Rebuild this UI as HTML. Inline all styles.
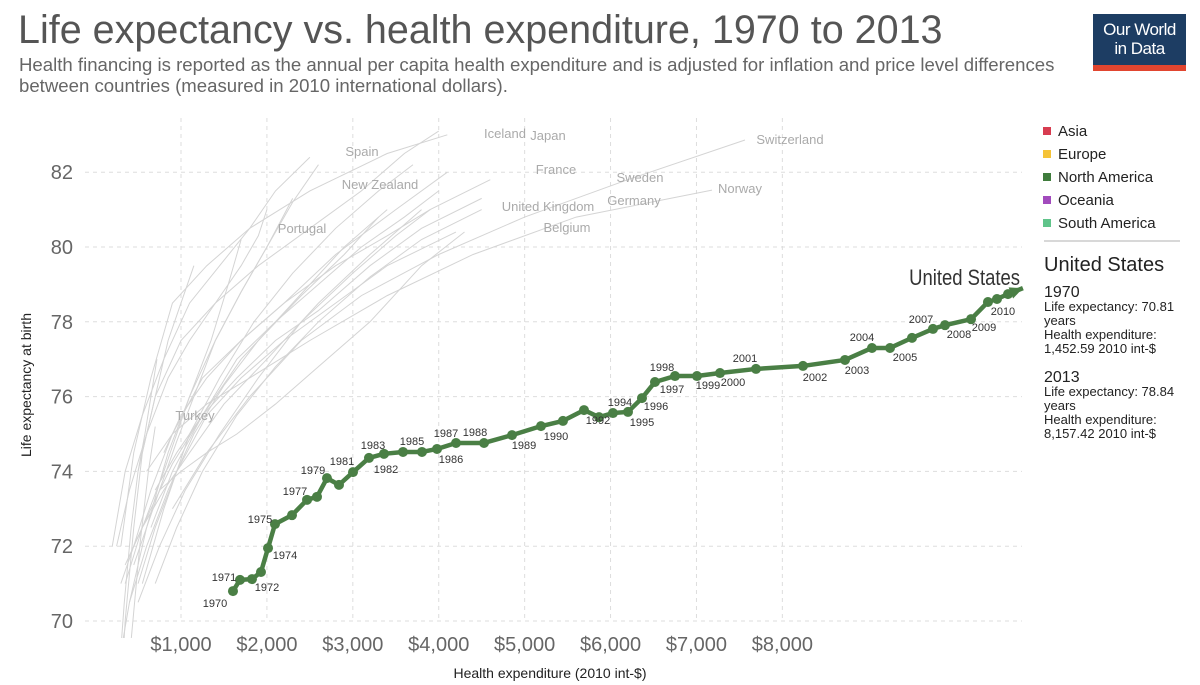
<!DOCTYPE html>
<html><head><meta charset="utf-8">
<style>
html,body{margin:0;width:1200px;height:685px;overflow:hidden}
body{background:#fff;font-family:"Liberation Sans",sans-serif;position:relative}
.t{position:absolute;left:18px;top:8px;font-size:39.5px;color:#555;white-space:nowrap}
.s{position:absolute;left:19px;top:54px;font-size:18.6px;color:#666;line-height:21px;width:1072px}
.logo{position:absolute;left:1093px;top:14px;width:93px;height:57px;background:#1d3d63;color:#fff;font-size:17px;line-height:19px;text-align:center;box-sizing:border-box;padding-top:6px;letter-spacing:-0.5px}
.logo .bar{position:absolute;left:0;bottom:0;width:100%;height:6px;background:#e1452f}
</style></head><body>
<div class="t">Life expectancy vs. health expenditure, 1970 to 2013</div>
<div class="s">Health financing is reported as the annual per capita health expenditure and is adjusted for inflation and price level differences between countries (measured in 2010 international dollars).</div>
<div class="logo">Our World<br>in Data<div class="bar"></div></div>
<svg id="c" width="1200" height="685" style="position:absolute;left:0;top:0;display:block"></svg>
<script>
const xTicks=[1000,2000,3000,4000,5000,6000,7000,8000];
const xTickLabels=["$1,000","$2,000","$3,000","$4,000","$5,000","$6,000","$7,000","$8,000"];
const yTicks=[70,72,74,76,78,80,82];
const years=[1970,1971,1972,1973,1974,1975,1976,1977,1978,1979,1980,1981,1982,1983,1984,1985,1986,1987,1988,1989,1990,1991,1992,1993,1994,1995,1996,1997,1998,1999,2000,2001,2002,2003,2004,2005,2006,2007,2008,2009,2010,2011,2012,2013];
const usSpend=[1605,1687,1826,1931,2013,2094,2292,2467,2583,2699,2839,3002,3188,3363,3584,3805,3980,4201,4527,4853,5190,5446,5691,5866,6028,6203,6366,6517,6750,7006,7274,7693,8240,8729,9043,9253,9509,9753,9893,10196,10393,10498,10626,10800];
const usLife=[70.80,71.10,71.12,71.31,71.95,72.59,72.83,73.24,73.32,73.82,73.64,73.98,74.36,74.47,74.52,74.52,74.60,74.76,74.76,74.97,75.21,75.35,75.64,75.45,75.56,75.59,75.96,76.39,76.55,76.55,76.63,76.74,76.82,76.98,77.30,77.30,77.57,77.81,77.91,78.07,78.53,78.61,78.74,78.90];
const labelYears=[1970,1971,1972,1974,1975,1977,1979,1981,1982,1983,1985,1986,1987,1988,1989,1990,1992,1994,1995,1996,1997,1998,1999,2000,2001,2002,2003,2004,2005,2007,2008,2009,2010];
const labelDx=[-18,-16,15,17,-15,-12,-14,-11,17,-11,-10,14,-10,-9,12,15,14,7,14,14,17,-13,11,13,-11,12,12,-10,15,-12,14,13,15];
const labelDy=[12,-3,8,7,-5,-9,-8,-11,11,-9,-11,10,-10,-11,10,10,10,-11,10,8,7,-9,9,9,-11,11,10,-11,9,-10,9,8,9];
const countryNames=["Switzerland","Norway","Japan","Iceland","France","Sweden","Germany","United Kingdom","Belgium","Spain","New Zealand","Portugal","Turkey","Italy","Canada","Austria","Netherlands","Greece","Denmark","Finland","Ireland","Australia","Mexico","Chile"];
const countrySpend=[
[900,1300,1800,2400,3100,4000,5000,6200,7565],
[600,900,1300,1800,2500,3400,4400,5600,7181],
[300,450,650,900,1300,1800,2500,3400,4100],
[500,700,1000,1400,1900,2500,3100,3600,4000],
[450,650,900,1250,1700,2200,2800,3500,4100],
[800,1000,1300,1700,2200,2800,3400,3900,4600],
[700,950,1250,1650,2100,2600,3200,3800,4500],
[350,550,800,1100,1500,2000,2600,3200,3800],
[500,700,950,1300,1700,2200,2800,3400,4200],
[200,350,550,800,1100,1450,1800,2100,2500],
[450,600,750,950,1150,1400,1700,2000,2300],
[150,250,400,600,850,1100,1350,1550,1700],
[50,100,170,250,330,420,520,620,700],
[350,550,800,1100,1400,1700,2000,2300,2600],
[650,900,1250,1650,2100,2600,3100,3600,4000],
[500,750,1050,1450,1900,2400,3000,3500,3900],
[700,950,1250,1650,2100,2600,3200,3800,4500],
[250,400,600,850,1100,1400,1700,1900,2000],
[750,1000,1300,1650,2100,2600,3200,3800,4300],
[400,600,850,1150,1500,1900,2400,2900,3300],
[300,450,650,900,1250,1700,2300,2900,3400],
[550,800,1100,1450,1850,2300,2800,3300,3700],
[100,180,260,340,420,500,580,650,720],
[150,250,350,450,550,700,850,1000,1150]];
const countryLife=[
[73.0,74.5,76.0,77.5,78.7,79.8,80.8,81.8,82.86],
[74.0,75.0,75.8,76.5,77.5,78.7,79.8,80.8,81.52],
[72.0,74.5,76.5,78.5,79.5,80.5,81.5,82.5,83.0],
[74.0,76.0,77.5,78.5,79.5,80.5,81.5,82.5,83.1],
[72.0,73.5,75.0,76.5,77.5,78.5,79.8,81.0,82.0],
[74.5,75.5,76.5,77.5,78.5,79.5,80.3,81.0,81.8],
[71.0,72.5,74.0,75.5,76.8,78.0,79.2,80.2,81.0],
[71.5,72.5,73.5,74.5,75.8,77.0,78.5,79.8,81.0],
[71.0,72.5,74.0,75.5,76.5,77.5,78.5,79.5,80.4],
[72.0,74.0,75.5,77.0,78.5,79.5,80.5,81.5,82.4],
[71.5,72.5,73.5,74.8,76.0,77.5,78.8,80.0,81.3],
[66.0,68.5,70.5,72.5,74.5,76.0,77.5,79.0,80.2],
[54.0,58.0,61.0,64.0,67.0,69.5,72.0,74.0,75.2],
[71.0,72.5,74.0,76.0,77.5,78.8,80.0,81.2,82.2],
[72.5,74.0,75.5,77.0,78.0,79.0,80.0,80.8,81.5],
[70.5,72.0,73.5,75.0,76.5,78.0,79.3,80.3,81.0],
[73.5,74.5,75.5,76.5,77.5,78.3,79.5,80.5,81.3],
[72.0,73.5,75.0,76.5,77.5,78.5,79.5,80.3,81.0],
[73.5,74.0,74.5,75.0,75.8,76.8,78.0,79.5,80.4],
[70.5,72.0,73.5,75.0,76.3,77.5,78.7,79.8,80.8],
[71.0,72.0,73.0,74.2,75.5,77.0,78.5,80.0,81.0],
[71.0,73.0,75.0,76.5,78.0,79.3,80.5,81.5,82.2],
[62.0,65.0,68.0,70.5,72.5,74.0,75.0,76.0,77.0],
[62.0,66.0,70.0,72.5,74.5,76.0,77.5,78.5,79.5]];
const countryLabelShow=[true,true,true,true,true,true,true,true,true,true,true,true,true,false,false,false,false,false,false,false,false,false,false,false];
const labelPos=[[790,140],[740,189],[548,136],[505,134],[556,170],[640,178],[634,201],[548,207],[567,228],[362,152],[380,185],[302,229],[195,416]];
const legendNames=["Asia","Europe","North America","Oceania","South America"];
const legendColors=["#d73c50","#f5c338","#3f7c3c","#a24bbd","#60c48a"];

const NS="http://www.w3.org/2000/svg";
const svg=document.getElementById('c');
const X0=181,XS=0.08591;
function xs(v){return X0+(v-1000)*XS;}
function ys(v){return 621-(v-70)*37.4;}
function mk(t,a,p){const e=document.createElementNS(NS,t);for(const k in a)e.setAttribute(k,a[k]);(p||svg).appendChild(e);return e;}

xTicks.forEach((t,i)=>{
 const g=mk('line',{x1:xs(t),x2:xs(t),y1:118,y2:621,stroke:'#ddd','stroke-dasharray':'4,4'});
 
 
 const l=mk('text',{x:xs(t),y:651,'text-anchor':'middle','font-size':20,fill:'#666'});
 l.textContent=xTickLabels[i];
 
 
});
yTicks.forEach(t=>{
 const g=mk('line',{x1:85,x2:1022,y1:ys(t),y2:ys(t),stroke:'#ddd','stroke-dasharray':'4,4'});
 
 
 const l=mk('text',{x:73,y:ys(t)+7,'text-anchor':'end','font-size':20,fill:'#666'});
 l.textContent=t;
 
 
});
let xt=mk('text',{x:550,y:678,'text-anchor':'middle','font-size':14,fill:'#222'});
xt.textContent='Health expenditure (2010 int-$)';


let yt=mk('text',{x:0,y:0,'text-anchor':'middle','font-size':14,fill:'#222',transform:'translate(31,385) rotate(-90)'});
yt.textContent='Life expectancy at birth';



const clip=mk('clipPath',{id:'cp'});mk('rect',{x:110,y:118,width:920,height:520},clip);
const bg=mk('g',{'clip-path':'url(#cp)'});
countryNames.forEach((n,i)=>{
 const pts=countrySpend[i].map((s,j)=>xs(s)+','+ys(countryLife[i][j])).join(' ');
 const p=mk('polyline',{points:pts,fill:'none',stroke:'#d4d4d4','stroke-width':1},bg);
 
 
 if(countryLabelShow[i]){
  const t=mk('text',{x:labelPos[i][0],y:labelPos[i][1]+4,'font-size':13,fill:'#aaa','text-anchor':'middle'});
  t.textContent=n;
  
  
 }
});

const n=years.length;
const pts=usSpend.map((s,i)=>xs(s)+','+ys(usLife[i])).join(' ');
const us=mk('polyline',{points:pts,fill:'none',stroke:'#4a7f45','stroke-width':4.5,'stroke-linejoin':'round'});


for(let i=0;i<n-1;i++){
 const c=mk('circle',{cx:xs(usSpend[i]),cy:ys(usLife[i]),r:5,fill:'#4a7f45'});
 
 
}
{const x1=xs(usSpend[n-2]),y1=ys(usLife[n-2]),x2=xs(usSpend[n-1]),y2=ys(usLife[n-1]);
 const a=Math.atan2(y2-y1,x2-x1);const L=13,W=6;
 const bx=x2-L*Math.cos(a),by=y2-L*Math.sin(a);
 const p=mk('polygon',{points:`${x2},${y2} ${bx-W*Math.sin(a)},${by+W*Math.cos(a)} ${bx+W*Math.sin(a)},${by-W*Math.cos(a)}`,fill:'#4a7f45'});
 
 }
labelYears.forEach((yr,k)=>{
 const i=years.indexOf(yr);
 const t=mk('text',{x:xs(usSpend[i])+labelDx[k],y:ys(usLife[i])+labelDy[k]+4,'text-anchor':'middle','font-size':11,fill:'#333'});
 t.textContent=yr;
 
 
});
let ul=mk('text',{x:1020,y:ys(usLife[n-1])-3,'text-anchor':'end','font-size':22,fill:'#333',transform:`translate(${1020*0.16},0) scale(0.84,1)`});
ul.textContent='United States';



legendNames.forEach((nm,i)=>{
 const y=131+i*23;
 const r=mk('rect',{x:1043,y:y-4,width:8,height:8,fill:legendColors[i]});
 
 
 const t=mk('text',{x:1058,y:y+5,'font-size':15,fill:'#222'});
 t.textContent=nm;
 
 
});
let dv=mk('line',{x1:1044,x2:1180,y1:241,y2:241,stroke:'#ccc','stroke-width':1.5});


const info=[[271,20,'United States'],[297,16,'1970'],[311,13,'Life expectancy: 70.81'],[325,13,'years'],[339,13,'Health expenditure:'],[353,13,'1,452.59 2010 int-$'],[382,16,'2013'],[396,13,'Life expectancy: 78.84'],[410,13,'years'],[424,13,'Health expenditure:'],[438,13,'8,157.42 2010 int-$']];
info.forEach(r=>{
 const t=mk('text',{x:1044,y:r[0],'font-size':r[1],fill:'#222'});
 t.textContent=r[2];
 
 
});
</script>
</body></html>
